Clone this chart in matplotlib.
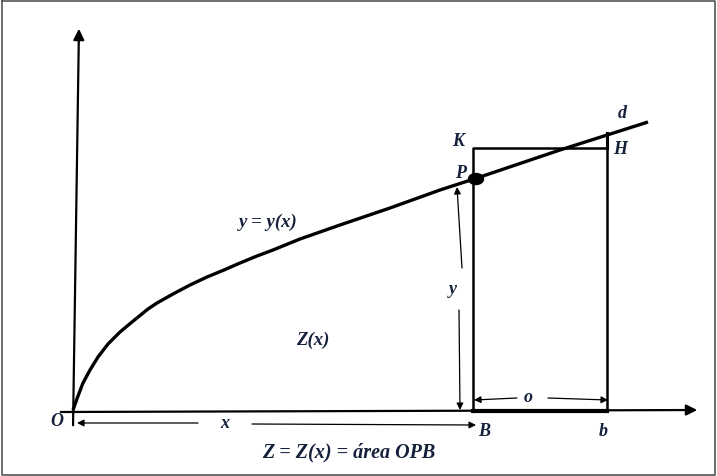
import matplotlib.pyplot as plt
from matplotlib.patches import Ellipse

# curve y = y(x) (pixel coords, y downwards)
curve_x = [73, 78, 83, 90, 98, 108, 120, 132, 148, 157, 173, 190, 207, 224, 240, 257, 273,
           300, 340, 390, 440, 477, 560, 648]
curve_y = [410, 396, 383, 370, 357, 344, 332, 322, 309, 303, 294, 285, 277, 270, 263, 256, 250,
           239, 225, 208, 190, 178, 150, 122]

# rectangle B-b-H-K
rect_x = [473, 473, 607, 607]
rect_y = [411, 148, 148, 411]
point_p = (476, 179)

# labels: text, x, y, size
labels = [
    ("O", 57, 422, 13), ("B", 484, 431, 13), ("b", 603, 431, 13),
    ("K", 458, 141, 13), ("H", 620, 149, 13), ("d", 622, 113, 13),
    ("P", 461, 173, 13), ("y = y(x)", 268, 222, 13.5), ("Z(x)", 313, 340, 13.5),
    ("y", 453, 290, 13), ("x", 225, 423, 13), ("o", 528, 397, 13),
    ("Z = Z(x) = área OPB", 349, 452, 14.5),
]

# thin dimension arrows: (start, tip)
arrows = [
    ((198, 423), (77, 423)), ((252, 424), (476, 425)),
    ((462, 268), (457, 187)), ((459, 310), (460, 410)),
    ((517, 398), (474, 400)), ((548, 398), (608, 400)),
]

fig = plt.figure(figsize=(7.17, 4.76), dpi=100)
ax = fig.add_axes([0, 0, 1, 1])
ax.set_xlim(0, 717)
ax.set_ylim(476, 0)
ax.axis('off')

# outer frame
ax.plot([2, 715, 715, 2, 2], [1, 1, 475, 475, 1], color='#555555', lw=1.2)

# axes with arrow heads
ax.annotate('', xy=(79, 26), xytext=(73, 428),
            arrowprops=dict(arrowstyle='-|>', lw=1.6, color='black', mutation_scale=16))
ax.annotate('', xy=(700, 410), xytext=(58, 412),
            arrowprops=dict(arrowstyle='-|>', lw=1.6, color='black', mutation_scale=16))

ax.plot(curve_x, curve_y, color='black', lw=2.4, solid_capstyle='butt', solid_joinstyle='round')

ax.plot(rect_x, rect_y, color='black', lw=1.8)
ax.plot([rect_x[0], rect_x[-1]], [rect_y[0], rect_y[0]], color='black', lw=3)
ax.plot([607, 607], [148, 133], color='black', lw=2.2)

ax.add_patch(Ellipse(point_p, 15, 11, color='black'))

for (x0, y0), (x1, y1) in arrows:
    ax.annotate('', xy=(x1, y1), xytext=(x0, y0),
                arrowprops=dict(arrowstyle='-|>', lw=0.9, color='black', mutation_scale=10,
                                shrinkA=0, shrinkB=0))

for txt, x, y, s in labels:
    ax.text(x, y, txt, family='Liberation Serif', style='italic', weight='bold',
            fontsize=s, color='#15203a', ha='center', va='center')

fig.savefig('out.png', dpi=100)
